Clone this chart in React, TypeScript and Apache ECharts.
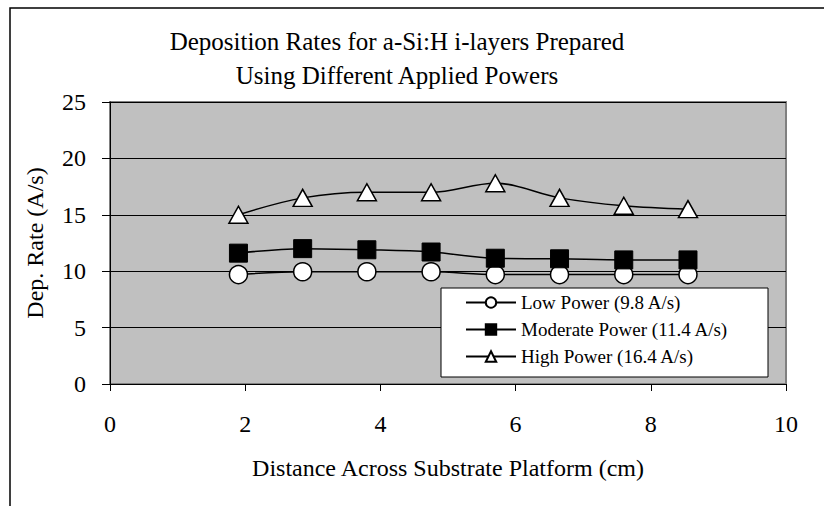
import React, { useEffect, useRef } from "react";
import * as echarts from "echarts";

const xValues = [1.9, 2.85, 3.8, 4.75, 5.7, 6.65, 7.6, 8.55];
const lowPower = [9.7, 9.95, 9.95, 9.95, 9.7, 9.7, 9.7, 9.7];
const moderatePower = [11.6, 12.0, 11.9, 11.7, 11.15, 11.1, 11.0, 11.0];
const highPower = [15.0, 16.5, 17.0, 17.0, 17.8, 16.5, 15.8, 15.5];
const seriesNames = ["Low Power (9.8 A/s)", "Moderate Power (11.4 A/s)", "High Power (16.4 A/s)"];
const titleLines = ["Deposition Rates for a-Si:H i-layers Prepared", "Using Different Applied Powers"];
const xAxisName = "Distance Across Substrate Platform (cm)";
const yAxisName = "Dep. Rate (A/s)";

const FONT = "'Liberation Serif', 'Times New Roman', serif";

export default function App() {
  const ref = useRef<HTMLDivElement>(null);
  useEffect(() => {
    if (!ref.current) return;
    const chart = echarts.init(ref.current, undefined, { renderer: "svg" });
    const pairs = (ys: number[]) => xValues.map((x, i) => [x, ys[i]]);
    const lineStyle = { color: "#000", width: 1.5 };
    chart.setOption({
      animation: false,
      backgroundColor: "#fff",
      textStyle: { fontFamily: FONT },
      graphic: [
        {
          type: "rect",
          shape: { x: 10, y: 8, width: 1000, height: 700 },
          style: { fill: "none", stroke: "#000", lineWidth: 1.5 },
          silent: true,
        },
        {
          type: "text",
          x: 397,
          y: 41,
          style: { text: titleLines[0], font: `25px ${FONT}`, fill: "#000", align: "center", verticalAlign: "middle" },
        },
        {
          type: "text",
          x: 397,
          y: 75,
          style: { text: titleLines[1], font: `25px ${FONT}`, fill: "#000", align: "center", verticalAlign: "middle" },
        },
        {
          type: "rect",
          z: 3,
          shape: { x: 441, y: 288, width: 327, height: 89 },
          style: { fill: "#fff", stroke: "#000", lineWidth: 1 },
          silent: true,
        },
      ],
      grid: {
        left: 110,
        top: 102,
        width: 676,
        height: 282,
        show: true,
        backgroundColor: "#C0C0C0",
        borderColor: "#808080",
        borderWidth: 2,
      },
      legend: {
        left: 465,
        top: 293,
        orient: "vertical",
        itemWidth: 50,
        itemHeight: 13,
        itemGap: 8,
        padding: 0,
        data: seriesNames,
        textStyle: { fontFamily: FONT, fontSize: 19, color: "#000" },
      },
      xAxis: {
        type: "value",
        min: 0,
        max: 10,
        interval: 2,
        name: xAxisName,
        nameLocation: "middle",
        nameGap: 72,
        nameTextStyle: { fontFamily: FONT, fontSize: 24, color: "#000" },
        axisLine: { lineStyle: { color: "#000", width: 1 } },
        axisTick: { show: true, length: 7, lineStyle: { color: "#000" } },
        axisLabel: { fontFamily: FONT, fontSize: 24, color: "#000", margin: 28 },
        splitLine: { show: false },
      },
      yAxis: {
        type: "value",
        min: 0,
        max: 25,
        interval: 5,
        name: yAxisName,
        nameLocation: "middle",
        nameGap: 63,
        nameTextStyle: { fontFamily: FONT, fontSize: 24, color: "#000" },
        axisLine: { show: true, lineStyle: { color: "#000", width: 1 } },
        axisTick: { show: true, length: 8, lineStyle: { color: "#000" } },
        axisLabel: { fontFamily: FONT, fontSize: 24, color: "#000", margin: 24 },
        splitLine: { show: true, lineStyle: { color: "#000", width: 1 } },
      },
      series: [
        {
          name: seriesNames[0],
          type: "line",
          data: pairs(lowPower),
          smooth: 0.35,
          symbol: "circle",
          symbolSize: 18,
          lineStyle,
          itemStyle: { color: "#fff", borderColor: "#000", borderWidth: 1.5 },
        },
        {
          name: seriesNames[1],
          type: "line",
          data: pairs(moderatePower),
          smooth: 0.35,
          symbol: "rect",
          symbolSize: 18,
          lineStyle,
          itemStyle: { color: "#000", borderColor: "#000", borderWidth: 1 },
        },
        {
          name: seriesNames[2],
          type: "line",
          data: pairs(highPower),
          smooth: 0.35,
          symbol: "triangle",
          symbolSize: [19, 17],
          lineStyle,
          itemStyle: { color: "#fff", borderColor: "#000", borderWidth: 1.5 },
        },
      ],
    });
    return () => chart.dispose();
  }, []);
  return (
    <div
      ref={ref}
      style={{ position: "absolute", left: 0, top: 0, width: 824, height: 506 }}
    />
  );
}
